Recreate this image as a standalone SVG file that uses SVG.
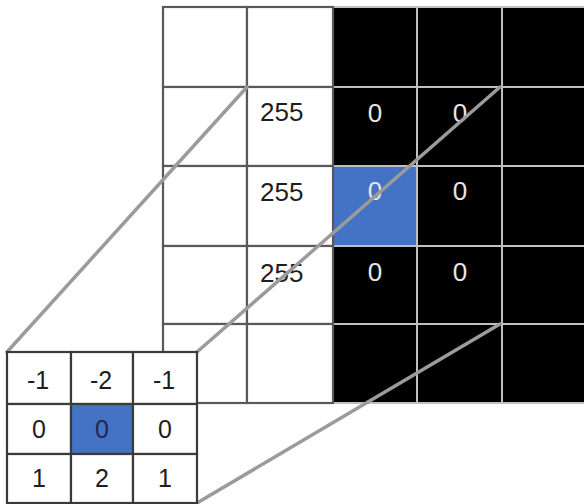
<svg xmlns="http://www.w3.org/2000/svg" width="584" height="504" viewBox="0 0 584 504">
<style>
.w{fill:#ffffff;stroke:#595959;stroke-width:2.2}
.b{fill:#000000;stroke:#bfbfbf;stroke-width:2}
.bl{fill:#4472c4;stroke:#bfbfbf;stroke-width:2}
.k{fill:#ffffff;stroke:#3a3a3a;stroke-width:2.2}
.kb{fill:#4472c4;stroke:#3a3a3a;stroke-width:2.2}
.t{font-family:"Liberation Sans",Arial,sans-serif;font-size:26px;fill:#1e1e1e}
.tz{font-family:"Liberation Sans",Arial,sans-serif;font-size:26px;fill:#e6e6e6;text-anchor:middle}
.tk{font-family:"Liberation Sans",Arial,sans-serif;font-size:25px;fill:#1e1e1e;text-anchor:middle}
.tkb{font-family:"Liberation Sans",Arial,sans-serif;font-size:25px;fill:#1c2a4a;text-anchor:middle}
.ln{stroke:#9b9b9b;stroke-width:3.5;fill:none;stroke-linecap:round}
</style>
<rect x="0" y="0" width="584" height="504" fill="#ffffff"/>
<g id="image-grid">
  <g id="cell-0-2"><rect class="b" x="333" y="7" width="84" height="80"/></g>
  <g id="cell-0-3"><rect class="b" x="417" y="7" width="85" height="80"/></g>
  <g id="cell-0-4"><rect class="b" x="502" y="7" width="84" height="80"/></g>
  <g id="cell-1-2"><rect class="b" x="333" y="87" width="84" height="79"/><text class="tz" x="375" y="122">0</text></g>
  <g id="cell-1-3"><rect class="b" x="417" y="87" width="85" height="79"/><text class="tz" x="460" y="122">0</text></g>
  <g id="cell-1-4"><rect class="b" x="502" y="87" width="84" height="79"/></g>
  <g id="cell-2-2"><rect class="bl" x="333" y="166" width="84" height="80"/><text class="tz" x="375" y="200" fill="#dde6f5">0</text></g>
  <g id="cell-2-3"><rect class="b" x="417" y="166" width="85" height="80"/><text class="tz" x="460" y="200">0</text></g>
  <g id="cell-2-4"><rect class="b" x="502" y="166" width="84" height="80"/></g>
  <g id="cell-3-2"><rect class="b" x="333" y="246" width="84" height="78"/><text class="tz" x="375" y="281">0</text></g>
  <g id="cell-3-3"><rect class="b" x="417" y="246" width="85" height="78"/><text class="tz" x="460" y="281">0</text></g>
  <g id="cell-3-4"><rect class="b" x="502" y="246" width="84" height="78"/></g>
  <g id="cell-4-2"><rect class="b" x="333" y="324" width="84" height="79"/></g>
  <g id="cell-4-3"><rect class="b" x="417" y="324" width="85" height="79"/></g>
  <g id="cell-4-4"><rect class="b" x="502" y="324" width="84" height="79"/></g>
  <g id="cell-0-0"><rect class="w" x="163" y="7" width="84" height="80"/></g>
  <g id="cell-0-1"><rect class="w" x="247" y="7" width="86" height="80"/></g>
  <g id="cell-1-0"><rect class="w" x="163" y="87" width="84" height="79"/></g>
  <g id="cell-1-1"><rect class="w" x="247" y="87" width="86" height="79"/><text class="t" x="260" y="121">255</text></g>
  <g id="cell-2-0"><rect class="w" x="163" y="166" width="84" height="80"/></g>
  <g id="cell-2-1"><rect class="w" x="247" y="166" width="86" height="80"/><text class="t" x="260" y="201">255</text></g>
  <g id="cell-3-0"><rect class="w" x="163" y="246" width="84" height="78"/></g>
  <g id="cell-3-1"><rect class="w" x="247" y="246" width="86" height="78"/><text class="t" x="260" y="282">255</text></g>
  <g id="cell-4-0"><rect class="w" x="163" y="324" width="84" height="79"/></g>
  <g id="cell-4-1"><rect class="w" x="247" y="324" width="86" height="79"/></g>
</g>
<g id="connectors">
  <line class="ln" x1="7" y1="352" x2="247" y2="87"/>
  <line class="ln" x1="197" y1="352" x2="500" y2="87"/>
  <line class="ln" x1="197" y1="503" x2="500" y2="324"/>
</g>
<g id="kernel">
  <g id="k-0-0"><rect class="k" x="7" y="352" width="64" height="52"/><text class="tk" x="38" y="389">-1</text></g>
  <g id="k-0-1"><rect class="k" x="71" y="352" width="62" height="52"/><text class="tk" x="101" y="389">-2</text></g>
  <g id="k-0-2"><rect class="k" x="133" y="352" width="64" height="52"/><text class="tk" x="164" y="389">-1</text></g>
  <g id="k-1-0"><rect class="k" x="7" y="404" width="64" height="50"/><text class="tk" x="39" y="438">0</text></g>
  <g id="k-1-1"><rect class="kb" x="71" y="404" width="62" height="50"/><text class="tkb" x="102" y="438">0</text></g>
  <g id="k-1-2"><rect class="k" x="133" y="404" width="64" height="50"/><text class="tk" x="165" y="438">0</text></g>
  <g id="k-2-0"><rect class="k" x="7" y="454" width="64" height="49"/><text class="tk" x="39" y="487">1</text></g>
  <g id="k-2-1"><rect class="k" x="71" y="454" width="62" height="49"/><text class="tk" x="102" y="487">2</text></g>
  <g id="k-2-2"><rect class="k" x="133" y="454" width="64" height="49"/><text class="tk" x="165" y="487">1</text></g>
</g>
</svg>
